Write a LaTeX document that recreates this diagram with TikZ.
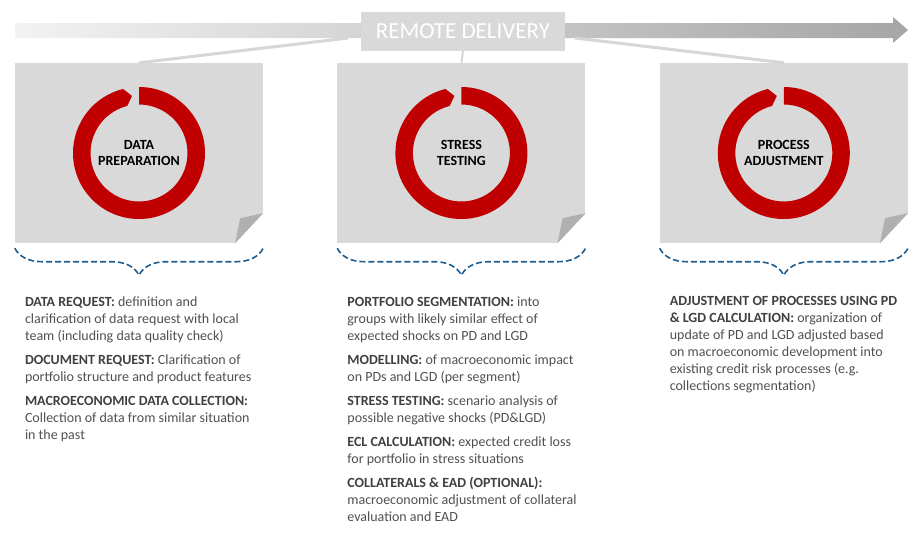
\documentclass[tikz,border=0pt]{standalone}
\usepackage{fontspec}
\setmainfont{Carlito}
\usetikzlibrary{positioning,calc,decorations.pathreplacing}
\definecolor{ringred}{HTML}{C00000}
\definecolor{papergray}{HTML}{D9D9D9}
\definecolor{foldgray}{HTML}{B0B0B0}
\definecolor{bracecol}{HTML}{1F5C8E}
\definecolor{headgray}{HTML}{404040}
\definecolor{bodygray}{HTML}{505050}
\definecolor{linkgray}{HTML}{D6D6D6}
\newcommand{\hd}[1]{\textbf{\color{headgray}#1}}
% red ring with a small arrow tip at the gap
\newcommand{\redring}[1]{%
    \fill[ringred,shift={(#1.center)}] (104:66) -- (97:57.5) -- (104:48.5)
        arc[start angle=104,end angle=450,radius=48.5] -- (450:66)
        arc[start angle=450,end angle=104,radius=66] -- cycle;}
% folded page corner
\newcommand{\fold}[1]{%
    \fill[white] (#1.south east) -- ++(0,30) -- ++(-28,-30) -- cycle;
    \fill[foldgray] ($(#1.south east)+(0,30)$) -- ($(#1.south east)+(-28,0)$) -- ($(#1.south east)+(-23,25)$) -- cycle;}
\tikzset{
    every node/.style={font=\fontsize{14}{17}\selectfont},
    paper/.style={rectangle,fill=papergray,minimum width=248pt,minimum height=180pt,inner sep=0pt},
    banner/.style={rectangle,fill=papergray,minimum width=204pt,minimum height=39pt,inner sep=0pt,text=white,font=\fontsize{23}{26}\selectfont},
    ringlabel/.style={align=center,text=black,font=\bfseries\fontsize{14}{16}\selectfont},
    desc/.style={align=left,anchor=north west,inner sep=0pt,text=bodygray},
    link/.style={draw=linkgray,line width=3pt},
    dashbrace/.style={draw=bracecol,line width=1.6pt,dash pattern=on 6pt off 3pt,
        decorate,decoration={brace,mirror,amplitude=27pt}}
}
\begin{document}
\begin{tikzpicture}[x=1pt,y=1pt]
    \useasboundingbox (0,0) rectangle (923,-549);
    % timeline arrow
    \shade[left color=white!95!black,right color=black!35] (15,-23) -- (893,-23) -- (893,-17)
        -- (908,-30) -- (893,-43) -- (893,-38) -- (15,-38) -- cycle;
    \coordinate (barl) at (348,-38);
    \coordinate (barr) at (575,-38);
    % pages
    \node[paper] (prep) at (139,-153) {};
    \node[paper,right=74pt of prep] (stress) {};
    \node[paper,right=74pt of stress] (adjust) {};
    \node[banner] (remote) at (463,-31) {REMOTE DELIVERY};
    \draw[link] (barl) -- (prep.north);
    \draw[link] (barr) -- (adjust.north);
    \draw[link,line width=2pt] (remote.south) -- (stress.north);
    \fold{prep}
    \fold{stress}
    \fold{adjust}
    \redring{prep}
    \redring{stress}
    \redring{adjust}
    \node[ringlabel] (prep-label) at (prep) {DATA\\PREPARATION};
    \node[ringlabel] (stress-label) at (stress) {STRESS\\TESTING};
    \node[ringlabel] (adjust-label) at (adjust) {PROCESS\\ADJUSTMENT};
    % braces
    \draw[dashbrace] ($(prep.south west)+(0,-5)$) -- ($(prep.south east)+(0,-5)$);
    \draw[dashbrace] ($(stress.south west)+(0,-5)$) -- ($(stress.south east)+(0,-5)$);
    \draw[dashbrace] ($(adjust.south west)+(0,-5)$) -- ($(adjust.south east)+(0,-5)$);
    % descriptions
    \node[desc] (prep-text) at ($(prep.south west)+(10,-53)$) {%
        \hd{DATA REQUEST:} definition and\\
        clarification of data request with local\\
        team (including data quality check)\\[7pt]
        \hd{DOCUMENT REQUEST:} Clarification of\\
        portfolio structure and product features\\[7pt]
        \hd{MACROECONOMIC DATA COLLECTION:}\\
        Collection of data from similar situation\\
        in the past};
    \node[desc] (stress-text) at ($(stress.south west)+(10,-53)$) {%
        \hd{PORTFOLIO SEGMENTATION:} into\\
        groups with likely similar effect of\\
        expected shocks on PD and LGD\\[7pt]
        \hd{MODELLING:} of macroeconomic impact\\
        on PDs and LGD (per segment)\\[7pt]
        \hd{STRESS TESTING:} scenario analysis of\\
        possible negative shocks (PD\&LGD)\\[7pt]
        \hd{ECL CALCULATION:} expected credit loss\\
        for portfolio in stress situations\\[7pt]
        \hd{COLLATERALS \& EAD (OPTIONAL):}\\
        macroeconomic adjustment of collateral\\
        evaluation and EAD};
    \node[desc] (adjust-text) at ($(adjust.south west)+(10,-53)$) {%
        \hd{ADJUSTMENT OF PROCESSES USING PD}\\
        \hd{\& LGD CALCULATION:} organization of\\
        update of PD and LGD adjusted based\\
        on macroeconomic development into\\
        existing credit risk processes (e.g.\\
        collections segmentation)};
\end{tikzpicture}
\end{document}
